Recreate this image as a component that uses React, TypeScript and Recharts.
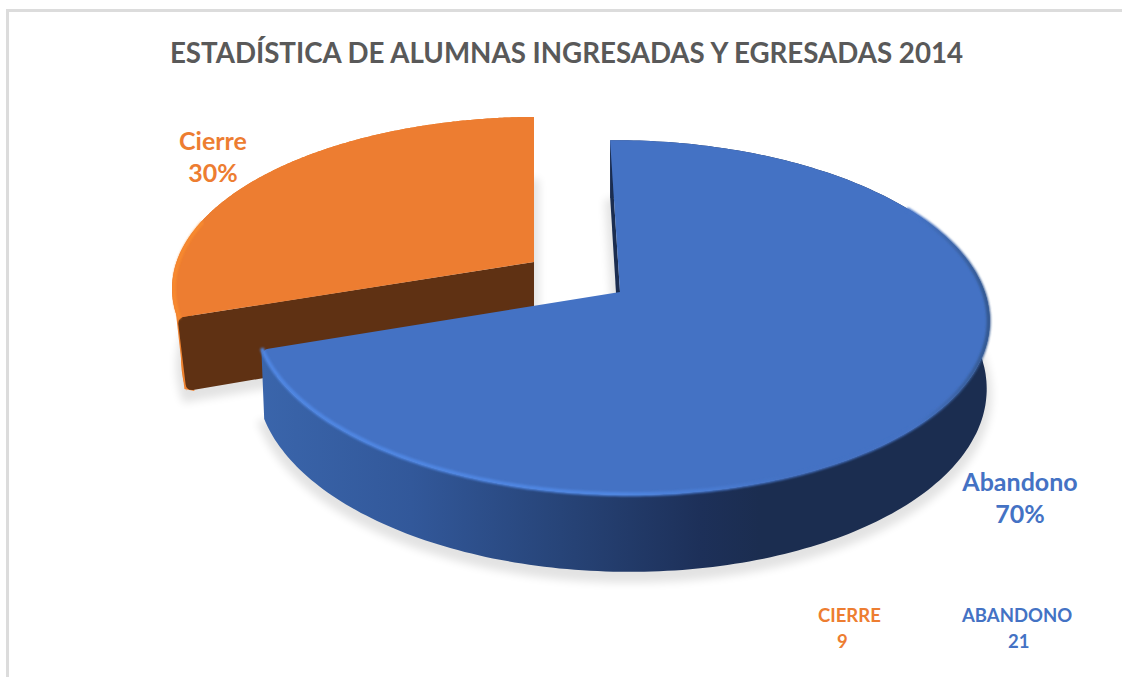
import { Legend, Pie, PieChart } from "recharts"

const categories = ["Cierre", "Abandono"]
const values = [9, 21]
const colors = ["#ed7d31", "#4472c4"]
const legendLabels = ["CIERRE", "ABANDONO"]
const chartTitle = "ESTADÍSTICA DE ALUMNAS INGRESADAS Y EGRESADAS 2014"

const pieData = categories.map((name, i) => ({ name, value: values[i], fill: colors[i] }))

// perspective of each slice: shift from the pie centre plus the tilt terms
const VIEW: Record<string, any> = {
  Cierre: { dx: -86, dy: -30, ax: 0.984, bx: 0, dyu: -0.006, ey: -0.456, inset: 0.975, depth: 70 },
  Abandono: { dx: 0, dy: 0, ax: 1, bx: -0.031, dyu: -0.005, ey: -0.477, inset: 0.992, depth: 66 },
}
const TILT = 0.1437

const LABEL_POS: Record<string, any> = {
  Cierre: { x: 213, y: 150 },
  Abandono: { x: 1020, y: 491 },
}

const LEGEND_POS = [
  { nameLeft: 18, valueLeft: 37 },
  { nameLeft: 162, valueLeft: 208 },
]

function project(view: any, cx: number, cy: number, r: number, deg: number, down: boolean) {
  const a = (deg * Math.PI) / 180
  const u = Math.cos(a)
  const v = Math.sin(a)
  const w = 1 + TILT * v
  let x = (r * (view.ax * u + view.bx * v)) / w
  let y = (r * (view.dyu * u + view.ey * v)) / w
  if (down) {
    x *= view.inset
    y += view.depth / w
  }
  return [cx + view.dx + x, cy + view.dy + y]
}

function arcPoints(view: any, cx: number, cy: number, r: number, from: number, to: number, down: boolean) {
  const pts = []
  const n = 240
  for (let i = 0; i <= n; i++) {
    pts.push(project(view, cx, cy, r, from + ((to - from) * i) / n, down))
  }
  return pts
}

const fmt = (p: number[]) => `${p[0].toFixed(1)},${p[1].toFixed(1)}`
const toPath = (pts: number[][], close = true) => "M" + pts.map(fmt).join("L") + (close ? "Z" : "")

// point a few px from `from` in the direction of `to`
function along(from: number[], to: number[], px: number) {
  const len = Math.hypot(to[0] - from[0], to[1] - from[1])
  return [from[0] + ((to[0] - from[0]) * px) / len, from[1] + ((to[1] - from[1]) * px) / len]
}

// slice top with a small round on the sharp outer corner; the corner is the last rim point
function roundedFace(apex: number[], rim: number[][], radius: number) {
  const tip = rim[rim.length - 1]
  const kept = rim.filter((p) => Math.hypot(p[0] - tip[0], p[1] - tip[1]) > radius)
  return "M" + [apex, ...kept].map(fmt).join("L") + `Q${fmt(tip)} ${fmt(along(tip, apex, radius))}Z`
}

function Slice3D(props: any) {
  const { cx, cy, outerRadius: r, startAngle, endAngle, fill, name } = props
  const view = VIEW[name]
  const isBlue = name === "Abandono"
  const apexTop = project(view, cx, cy, 0, 0, false)
  const apexDown = [apexTop[0], apexTop[1] + view.depth]
  const rimTop = arcPoints(view, cx, cy, r, startAngle, endAngle, false)
  const rimDown = arcPoints(view, cx, cy, r, startAngle, endAngle, true)
  const face = isBlue ? roundedFace(apexTop, rimTop, 7) : roundedFace(apexTop, [...rimTop].reverse(), 5)
  const floor = toPath([apexDown, ...rimDown])
  const wall = toPath([...rimTop, ...[...rimDown].reverse()])

  const edgeTop = rimTop[0]
  const edgeDown = rimDown[0]
  const cut = isBlue
    ? toPath([apexTop, edgeTop, edgeDown, apexDown])
    : "M" +
      fmt(apexTop) +
      "L" +
      fmt(along(edgeTop, apexTop, 8)) +
      `Q${fmt(edgeTop)} ${fmt(along(edgeTop, edgeDown, 7))}` +
      "L" +
      fmt(along(edgeDown, edgeTop, 7)) +
      `Q${fmt(edgeDown)} ${fmt(along(edgeDown, apexDown, 8))}` +
      "L" +
      fmt(apexDown) +
      "Z"

  // thin orange sliver that wraps the rounded corner of the Cierre cut
  const sliver = toPath([rimTop[27], [edgeDown[0] - 2, edgeDown[1] - 2], [edgeDown[0] + 8, edgeDown[1]], [edgeTop[0] + 10, edgeTop[1]]])

  // front part of the rim, catches the light
  const glint = isBlue
    ? arcPoints(view, cx, cy, r - 1, endAngle, 30, false)
    : arcPoints(view, cx, cy, r - 2, startAngle, 165, false)

  return (
    <g>
      <path
        d={floor}
        transform="translate(0 6)"
        fill="#000"
        stroke="#000"
        strokeWidth={10}
        opacity={0.11}
        filter="url(#softShadow)"
      />
      <path d={wall} fill={isBlue ? "url(#blueWall)" : "#e9791f"} />
      {!isBlue && <path d={sliver} fill="#ee8230" />}
      <path d={cut} fill={isBlue ? "#1b2d50" : "#5f3113"} />
      <path d={face} fill={fill} />
      <path
        d={toPath(glint, false)}
        fill="none"
        stroke={isBlue ? "url(#blueGlint)" : "#f98b2e"}
        strokeWidth={isBlue ? 4 : 3}
        strokeLinecap="round"
        filter="url(#softGlint)"
      />
    </g>
  )
}

function SliceLabel(props: any) {
  const { name, percent } = props
  const pos = LABEL_POS[name]
  return (
    <text
      x={pos.x}
      y={pos.y}
      textAnchor="middle"
      fontFamily="Lato, sans-serif"
      fontWeight={700}
      fontSize={25}
      fill={colors[categories.indexOf(name)]}
    >
      <tspan x={pos.x}>{name}</tspan>
      <tspan x={pos.x} dy={32}>
        {Math.round(percent * 100)}%
      </tspan>
    </text>
  )
}

function ValueLegend() {
  return (
    <div style={{ position: "relative", width: 300, height: 60, fontFamily: "Lato, sans-serif", fontWeight: 700, fontSize: 18.5 }}>
      {legendLabels.map((label, i) => (
        <div key={label} style={{ color: colors[i] }}>
          <span style={{ position: "absolute", left: LEGEND_POS[i].nameLeft, top: -1 }}>{label}</span>
          <span style={{ position: "absolute", left: LEGEND_POS[i].valueLeft, top: 25 }}>{values[i]}</span>
        </div>
      ))}
    </div>
  )
}

export default function App() {
  return (
    <div style={{ position: "absolute", left: 0, top: 0, width: 1122, height: 677, background: "#fff" }}>
      <div
        style={{
          position: "absolute",
          left: 6,
          top: 9,
          width: 1116,
          height: 668,
          boxSizing: "border-box",
          borderTop: "3px solid #dcdcdc",
          borderLeft: "3px solid #dcdcdc",
        }}
      />
      <PieChart width={1122} height={677} margin={{ top: 0, right: 0, bottom: 0, left: 0 }} style={{ position: "absolute", left: 0, top: 0 }}>
        <defs>
          <linearGradient id="blueWall" gradientUnits="userSpaceOnUse" x1={262} y1={0} x2={760} y2={0}>
            <stop offset="0" stopColor="#3a65ab" />
            <stop offset="0.3" stopColor="#32589a" />
            <stop offset="0.6" stopColor="#274478" />
            <stop offset="0.88" stopColor="#1d3059" />
            <stop offset="1" stopColor="#1b2d50" />
          </linearGradient>
          <linearGradient id="blueGlint" gradientUnits="userSpaceOnUse" x1={262} y1={0} x2={990} y2={0}>
            <stop offset="0" stopColor="#4f86e2" />
            <stop offset="0.5" stopColor="#4f86e2" />
            <stop offset="0.72" stopColor="#4472c4" />
            <stop offset="0.9" stopColor="#4472c4" />
            <stop offset="1" stopColor="#34588f" />
          </linearGradient>
          <filter id="softShadow" x="-20%" y="-20%" width="140%" height="140%">
            <feGaussianBlur stdDeviation={4} />
          </filter>
          <filter id="softGlint" x="-5%" y="-5%" width="110%" height="110%">
            <feGaussianBlur stdDeviation={1.2} />
          </filter>
        </defs>
        <text x={566.5} y={63} textAnchor="middle" fontFamily="Lato, sans-serif" fontWeight={700} fontSize={27.7} fill="#595959">
          {chartTitle}
        </text>
        <Pie
          data={pieData}
          dataKey="value"
          nameKey="name"
          cx={620}
          cy={292}
          outerRadius={364}
          startAngle={198}
          endAngle={-162}
          stroke="none"
          shape={Slice3D}
          label={SliceLabel}
          labelLine={false}
          isAnimationActive={false}
        />
        <Legend content={<ValueLegend />} wrapperStyle={{ position: "absolute", left: 800, top: 605, width: 300, height: 60, bottom: "auto" }} />
      </PieChart>
    </div>
  )
}
